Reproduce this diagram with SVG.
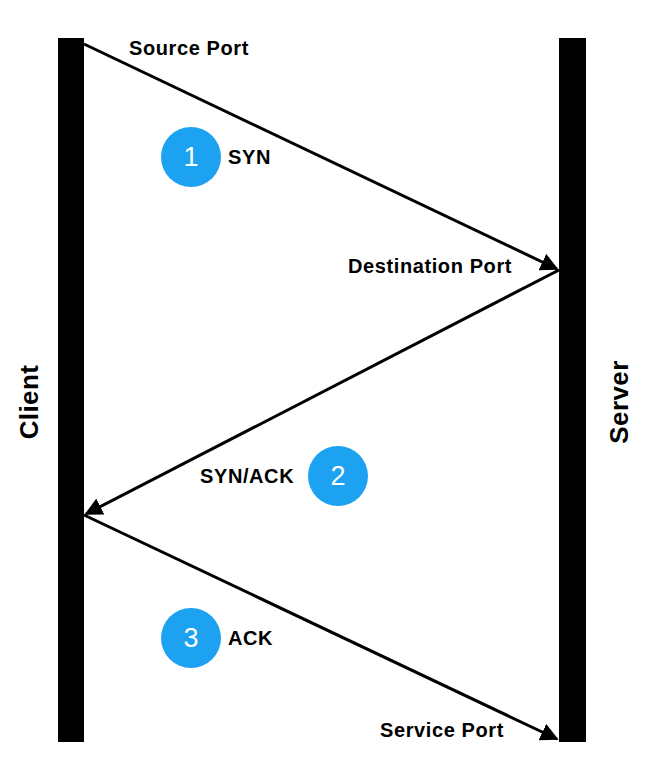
<svg xmlns="http://www.w3.org/2000/svg" width="650" height="783" viewBox="0 0 650 783">
<style>
.t{font-family:"Liberation Sans",Arial,sans-serif;font-weight:bold;font-size:20px;letter-spacing:0.6px;fill:#000}
.big{font-size:26px;letter-spacing:0.4px}
.n{font-family:"Liberation Sans",Arial,sans-serif;font-size:27px;fill:#fff;text-anchor:middle}
.c{fill:#1CA2F1}
.l{stroke:#000;stroke-width:3;fill:none;marker-end:url(#a)}
</style>
<defs><marker id="a" viewBox="0 0 10 10" refX="9" refY="5" markerWidth="6" markerHeight="6" orient="auto" markerUnits="strokeWidth"><path d="M0,0L10,5L0,10z"/></marker></defs>
<rect width="650" height="783" fill="#fff"/>
<g id="client"><rect x="58" y="38" width="26" height="704"/><text class="t big" transform="translate(38,402) rotate(-90)" text-anchor="middle">Client</text></g>
<g id="server"><rect x="559" y="38" width="27" height="704"/><text class="t big" transform="translate(628,402) rotate(-90)" text-anchor="middle">Server</text></g>
<g id="connectors">
<line class="l" x1="84" y1="44" x2="557" y2="269"/>
<line class="l" x1="559" y1="270" x2="86" y2="514"/>
<line class="l" x1="84" y1="515" x2="557" y2="739"/>
</g>
<g id="labels">
<text class="t" x="129" y="55">Source Port</text>
<text class="t" x="348" y="273">Destination Port</text>
<text class="t" x="380" y="737">Service Port</text>
</g>
<g id="step1"><circle class="c" cx="191" cy="157" r="30"/><text class="n" x="191" y="166">1</text><text class="t" x="228" y="164">SYN</text></g>
<g id="step2"><circle class="c" cx="338" cy="476" r="30"/><text class="n" x="338" y="485">2</text><text class="t" x="200" y="483">SYN/ACK</text></g>
<g id="step3"><circle class="c" cx="191" cy="638" r="30"/><text class="n" x="191" y="647">3</text><text class="t" x="228" y="645">ACK</text></g>
</svg>
